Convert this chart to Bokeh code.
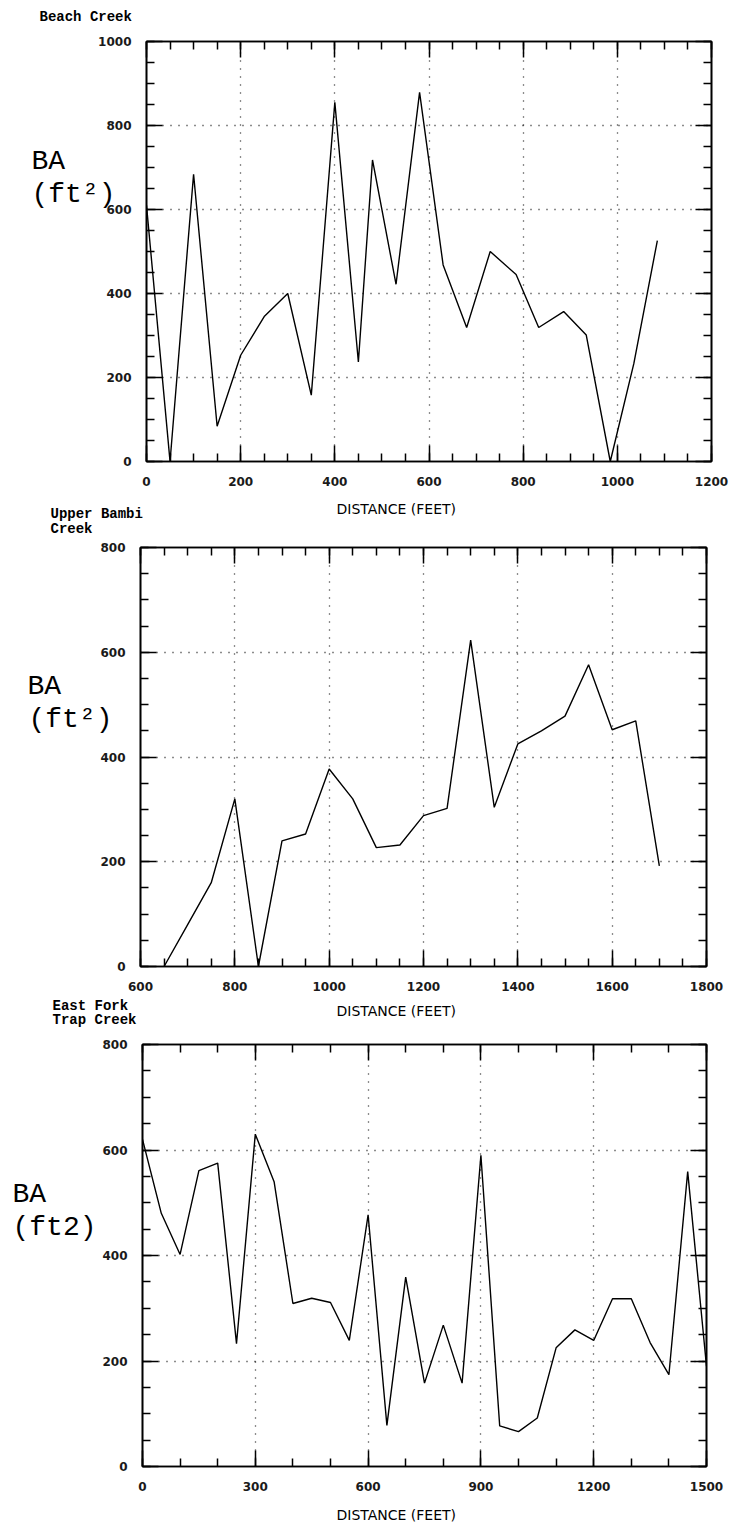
from bokeh.plotting import figure
from bokeh.models import Range1d, LinearAxis, SingleIntervalTicker, Label
from bokeh.layouts import column, row
from bokeh.embed import file_html
from bokeh.resources import INLINE

# ---- data ----
beach_name = "Beach Creek"
beach_dist = [0, 50, 100, 150, 200, 250, 300, 350, 400, 450, 480, 530, 580, 630,
              680, 730, 785, 833, 886, 934, 985, 1035, 1085]
beach_ba = [610, 0, 684, 84, 253, 345, 400, 158, 855, 237, 718, 422, 879, 468,
            319, 500, 445, 319, 357, 301, 0, 233, 526]

bambi_name = ["Upper Bambi", "Creek"]
bambi_dist = [650, 700, 750, 800, 850, 900, 950, 1000, 1050, 1100, 1150, 1200,
              1250, 1300, 1350, 1400, 1450, 1500, 1550, 1600, 1650, 1700]
bambi_ba = [0, 80, 160, 320, 0, 240, 253, 377, 320, 227, 232, 288,
            302, 623, 304, 425, 450, 478, 576, 452, 469, 192]

trap_name = ["East Fork", "Trap Creek"]
trap_dist = [0, 50, 100, 150, 200, 250, 300, 350, 400, 450, 500, 550, 600, 650,
             700, 750, 800, 850, 900, 950, 1000, 1050, 1100, 1150, 1200, 1250,
             1300, 1350, 1400, 1450, 1500]
trap_ba = [620, 480, 402, 561, 575, 233, 630, 540, 309, 319, 311, 239, 477, 78,
           359, 158, 268, 158, 590, 77, 66, 92, 225, 259, 239, 318,
           318, 235, 174, 559, 190]

x_title = "DISTANCE  (FEET)"
y_title_top = "BA"
y_title_sq = "(ft²)"
y_title_plain = "(ft2)"

TICK_FONT = "DejaVu Sans"
NAME_FONT = "Liberation Mono"
BA_FONT = "Liberation Mono"
W = 729
BA_W = 125
LB = 50


def make_panel(xs, ys, xr, yr, xint, xminor, yint, yminor, fw, fh, br, bt, bb, overlap):
    p = figure(frame_width=fw, frame_height=fh,
               x_range=Range1d(*xr), y_range=Range1d(*yr),
               output_backend="svg", toolbar_location=None,
               min_border_left=LB, min_border_right=br,
               min_border_top=bt, min_border_bottom=bb,
               background_fill_color="white", border_fill_color=None,
               margin=(0, 0, 0, -overlap))
    xt = SingleIntervalTicker(interval=xint, num_minor_ticks=xminor)
    yt = SingleIntervalTicker(interval=yint, num_minor_ticks=yminor)
    p.xaxis.ticker = xt
    p.yaxis.ticker = yt
    p.xgrid.ticker = xt
    p.ygrid.ticker = yt
    p.outline_line_color = "black"
    p.outline_line_width = 1.6
    for ax in (p.xaxis[0], p.yaxis[0]):
        ax.axis_line_width = 1.6
        ax.major_tick_in = 16
        ax.major_tick_out = 0
        ax.minor_tick_in = 8
        ax.minor_tick_out = 0
        ax.major_tick_line_width = 1.5
        ax.minor_tick_line_width = 1.5
        ax.major_label_text_font = TICK_FONT
        ax.major_label_text_font_size = "12px"
        ax.major_label_text_font_style = "bold"
        ax.major_label_text_color = "#1a1a1a"
    p.xaxis.major_label_standoff = 15
    p.yaxis.major_label_standoff = 15
    for side, t in (("above", xt), ("right", yt)):
        ax = LinearAxis(ticker=t, major_tick_in=16, major_tick_out=0,
                        minor_tick_in=8, minor_tick_out=0,
                        major_tick_line_width=1.5, minor_tick_line_width=1.5,
                        axis_line_width=1.6,
                        major_label_text_color=None, major_label_standoff=0,
                        major_label_text_font_size="1px")
        p.add_layout(ax, side)
    p.grid.grid_line_color = "black"
    p.grid.grid_line_dash = "1 7"
    p.grid.grid_line_width = 1.3
    p.grid.grid_line_alpha = 0.9
    p.line(xs, ys, line_color="black", line_width=1.4)
    return p


def text_fig(w, h):
    f = figure(frame_width=w, frame_height=h, x_range=Range1d(0, w), y_range=Range1d(0, h),
               x_axis_type=None, y_axis_type=None, output_backend="svg",
               toolbar_location=None, min_border=0, outline_line_color=None,
               background_fill_color="white", border_fill_color="white")
    return f


def add_text(f, x, y, text, font, size, style="normal", align="left"):
    f.add_layout(Label(x=x, y=y, text=text, text_font=font, text_font_size=size,
                       text_font_style=style, text_baseline="middle",
                       text_align=align, text_color="black"))


XT_CENTER = 398

# Row T0 (0..30)
t0 = text_fig(W, 30)
add_text(t0, 39, 14, beach_name, NAME_FONT, "14px", "bold")

# Row P1 (30..495)
ba1 = text_fig(BA_W, 465)
add_text(ba1, 31, 345, y_title_top, BA_FONT, "28px")
add_text(ba1, 31, 312, y_title_sq, BA_FONT, "28px")
p1 = make_panel(beach_dist, beach_ba, (0, 1200), (0, 1000), 200, 4, 200, 4,
                565, 420, 19, 11, 34, BA_W - 95)

# Row T1 (495..538)
t1 = text_fig(W, 43)
add_text(t1, XT_CENTER, 30, x_title, TICK_FONT, "14px", align="center")
add_text(t1, 50, 25, bambi_name[0], NAME_FONT, "14px", "bold")
add_text(t1, 50, 10, bambi_name[1], NAME_FONT, "14px", "bold")

# Row P2 (538..997)
ba2 = text_fig(BA_W, 459)
add_text(ba2, 27, 320, y_title_top, BA_FONT, "28px")
add_text(ba2, 28, 287, y_title_sq, BA_FONT, "28px")
p2 = make_panel(bambi_dist, bambi_ba, (600, 1800), (0, 800), 200, 4, 200, 4,
                566, 419, 23, 9, 31, BA_W - 90)

# Row T2 (997..1030)
t2 = text_fig(W, 33)
add_text(t2, XT_CENTER, 20, x_title, TICK_FONT, "14px", align="center")
add_text(t2, 52, 25, trap_name[0], NAME_FONT, "14px", "bold")
add_text(t2, 52, 11, trap_name[1], NAME_FONT, "14px", "bold")

# Row P3 (1030..1498)
ba3 = text_fig(BA_W, 468)
add_text(ba3, 12, 318, y_title_top, BA_FONT, "28px")
add_text(ba3, 12, 285, y_title_plain, BA_FONT, "28px")
p3 = make_panel(trap_dist, trap_ba, (0, 1500), (0, 800), 300, 3, 200, 4,
                564, 422, 23, 14, 32, BA_W - 92)

# Row T3 (1498..1523)
t3 = text_fig(W, 25)
add_text(t3, XT_CENTER, 9, x_title, TICK_FONT, "14px", align="center")

layout = column(t0, row(ba1, p1, spacing=0), t1, row(ba2, p2, spacing=0),
                t2, row(ba3, p3, spacing=0), t3, spacing=0)
open("out.html", "w").write(file_html(layout, INLINE))
